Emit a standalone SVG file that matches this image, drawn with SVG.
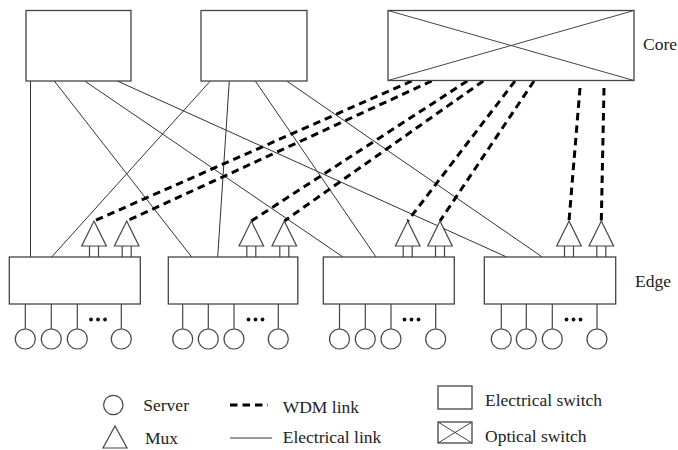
<svg xmlns="http://www.w3.org/2000/svg" width="678" height="450" viewBox="0 0 678 450">
<style>
.sw{fill:#fff;stroke:#444;stroke-width:1.3}
.x{stroke:#444;stroke-width:1;fill:none}
.el{stroke:#333;stroke-width:1;fill:none}
.wdm{stroke:#000;stroke-width:3;fill:none;stroke-dasharray:7.5 5}
.mux{fill:#fff;stroke:#444;stroke-width:1.2}
.stem{stroke:#444;stroke-width:1.2;fill:none}
.srv{fill:#fff;stroke:#444;stroke-width:1.2}
.dot{fill:#111}
.t{font-family:'Liberation Serif','DejaVu Serif',serif;font-size:17.5px;fill:#222}
</style>
<defs>
<g id="muxshape">
<line class="stem" x1="-4.5" y1="246" x2="-4.5" y2="257"/>
<line class="stem" x1="4.5" y1="246" x2="4.5" y2="257"/>
<polygon class="mux" points="0,221 12.3,246 -12.3,246"/>
</g>
<g id="server">
<line class="stem" x1="0" y1="304" x2="0" y2="329"/>
<circle class="srv" cx="0" cy="339" r="10"/>
</g>
</defs>

<g id="connectors">
<line class="el" x1="30.5" y1="81" x2="30.5" y2="257"/>
<line class="el" x1="54.3" y1="81" x2="191.7" y2="257"/>
<line class="el" x1="84.7" y1="81" x2="343" y2="257"/>
<line class="el" x1="117.3" y1="81" x2="506.7" y2="257"/>
<line class="el" x1="210.3" y1="81" x2="51.7" y2="257"/>
<line class="el" x1="229.3" y1="81" x2="217.7" y2="257"/>
<line class="el" x1="255.3" y1="81" x2="376" y2="257"/>
<line class="el" x1="286.7" y1="81" x2="542.3" y2="257"/>
<line class="wdm" x1="411.7" y1="81" x2="94" y2="221"/>
<line class="wdm" x1="431.7" y1="81" x2="126.7" y2="221"/>
<line class="wdm" x1="467.3" y1="81" x2="251.3" y2="221"/>
<line class="wdm" x1="483.3" y1="81" x2="284.3" y2="221"/>
<line class="wdm" x1="515" y1="81" x2="407.7" y2="221"/>
<line class="wdm" x1="534" y1="81" x2="440" y2="221"/>
<line class="wdm" x1="580" y1="88" x2="569" y2="221"/>
<line class="wdm" x1="604" y1="88" x2="601.3" y2="221"/>
</g>

<g id="core1"><rect class="sw" x="26" y="10.5" width="105" height="70.5"/></g>
<g id="core2"><rect class="sw" x="201" y="10.5" width="106" height="70.5"/></g>
<g id="optical">
<rect class="sw" x="388" y="10.5" width="246" height="70"/>
<line class="x" x1="388" y1="10.5" x2="634" y2="80.5"/>
<line class="x" x1="388" y1="80.5" x2="634" y2="10.5"/>
</g>
<text class="t" font-family="Liberation Serif, serif" x="643" y="50">Core</text>

<g id="edge1">
<rect class="sw" x="9.3" y="257" width="131" height="47"/>
<use href="#muxshape" x="94"/><use href="#muxshape" x="126.7"/>
<use href="#server" x="25.3"/><use href="#server" x="51.3"/><use href="#server" x="77.3"/><use href="#server" x="121.3"/>
<circle class="dot" cx="91" cy="319.5" r="1.9"/><circle class="dot" cx="98" cy="319.5" r="1.9"/><circle class="dot" cx="105" cy="319.5" r="1.9"/>
</g>
<g id="edge2">
<rect class="sw" x="168.3" y="257" width="129.5" height="47"/>
<use href="#muxshape" x="251.3"/><use href="#muxshape" x="284.3"/>
<use href="#server" x="182.7"/><use href="#server" x="208.3"/><use href="#server" x="234"/><use href="#server" x="278.3"/>
<circle class="dot" cx="248.5" cy="319.5" r="1.9"/><circle class="dot" cx="255.5" cy="319.5" r="1.9"/><circle class="dot" cx="262.5" cy="319.5" r="1.9"/>
</g>
<g id="edge3">
<rect class="sw" x="323.3" y="257" width="131" height="47"/>
<use href="#muxshape" x="407.7"/><use href="#muxshape" x="440"/>
<use href="#server" x="339.5"/><use href="#server" x="365.3"/><use href="#server" x="391"/><use href="#server" x="435.7"/>
<circle class="dot" cx="404.5" cy="319.5" r="1.9"/><circle class="dot" cx="411.5" cy="319.5" r="1.9"/><circle class="dot" cx="418.5" cy="319.5" r="1.9"/>
</g>
<g id="edge4">
<rect class="sw" x="484.3" y="257" width="131.4" height="47"/>
<use href="#muxshape" x="569"/><use href="#muxshape" x="601.3"/>
<use href="#server" x="501.3"/><use href="#server" x="526.3"/><use href="#server" x="552.3"/><use href="#server" x="597"/>
<circle class="dot" cx="566.5" cy="319.5" r="1.9"/><circle class="dot" cx="573.5" cy="319.5" r="1.9"/><circle class="dot" cx="580.5" cy="319.5" r="1.9"/>
</g>
<text class="t" font-family="Liberation Serif, serif" x="635" y="287">Edge</text>

<g id="legend">
<circle class="srv" cx="113.3" cy="405" r="9.7"/>
<text class="t" font-family="Liberation Serif, serif" x="143.3" y="411">Server</text>
<polygon class="mux" points="115,426 127,448 103,448"/>
<text class="t" font-family="Liberation Serif, serif" x="145" y="443.5">Mux</text>
<line class="wdm" x1="230" y1="405" x2="268" y2="405" stroke-dasharray="8 7"/>
<text class="t" font-family="Liberation Serif, serif" x="282.7" y="413">WDM link</text>
<line class="el" x1="230" y1="438" x2="272" y2="438"/>
<text class="t" font-family="Liberation Serif, serif" x="282.7" y="443">Electrical link</text>
<rect class="sw" x="438" y="386" width="34" height="23"/>
<text class="t" font-family="Liberation Serif, serif" x="485" y="406">Electrical switch</text>
<rect class="sw" x="438" y="422" width="34" height="21"/>
<line class="x" x1="438" y1="422" x2="472" y2="443"/>
<line class="x" x1="438" y1="443" x2="472" y2="422"/>
<text class="t" font-family="Liberation Serif, serif" x="485" y="442">Optical switch</text>
</g>
</svg>
